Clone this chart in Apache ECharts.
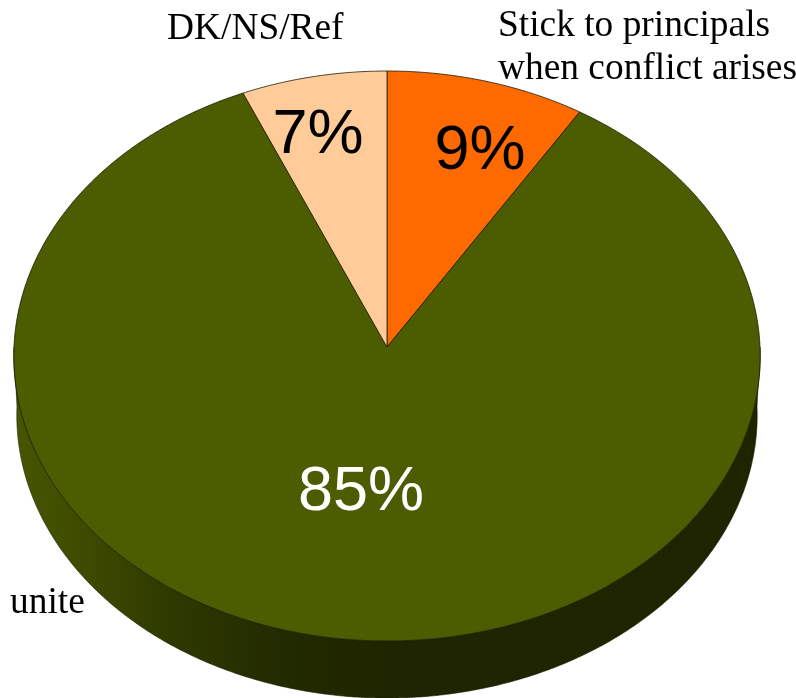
<!DOCTYPE html>
<html>
<head>
<meta charset="utf-8">
<style>html,body{margin:0;padding:0;background:#fff}#c{width:796px;height:698px}</style>
<script src="https://cdn.jsdelivr.net/npm/echarts@6/dist/echarts.min.js"></script>
</head>
<body>
<div id="c"></div>
<script>
const categories = ['Stick to principals\nwhen conflict arises', 'unite', 'DK/NS/Ref'];
const values = [8.9, 84.6, 6.5];

const sliceColors = ['#ff6a00', '#4c5c00', '#ffcc99'];
const pctColors = ['#000', '#fff', '#000'];
const pctPos = [[480, 152], [361, 493], [318, 136]];
const namePos = [[498, 48], [10, 603], [167, 29]];

const CX = 387, CY = 347, RX = 373, RY = 284.7, K = 0.0316;
const SHRINK = 0.992, DROP = 59.4;
const total = values.reduce((a, b) => a + b, 0);
const STEP = Math.PI / 360;

function proj(t, bottom) {
  const u = Math.sin(t), v = -Math.cos(t), w = 1 - K * v;
  const s = bottom ? SHRINK : 1;
  return [CX + s * RX * u / w, CY + (bottom ? DROP : 0) + s * RY * v / w];
}
function arc(a, b, bottom) {
  const pts = [], n = Math.max(1, Math.ceil((b - a) / STEP));
  for (let i = 0; i <= n; i++) pts.push(proj(a + (b - a) * i / n, bottom));
  return pts;
}
const wallFill = {
  type: 'linear', x: 14, y: 0, x2: 760, y2: 0, global: true,
  colorStops: [
    { offset: 0, color: '#465600' },
    { offset: 0.1, color: '#3d4a00' },
    { offset: 0.2, color: '#2f3a00' },
    { offset: 0.36, color: '#222a00' },
    { offset: 0.5, color: '#1f2500' },
    { offset: 1, color: '#1e2400' }
  ]
};

function renderItem(params, api) {
  const i = params.dataIndex;
  let before = 0;
  for (let j = 0; j < i; j++) before += values[j];
  const a = before / total * Math.PI * 2;
  const b = (before + api.value(0)) / total * Math.PI * 2;
  const children = [];
  const fa = Math.max(a, Math.PI / 2), fb = Math.min(b, Math.PI * 1.5);
  if (fb > fa) {
    children.push({
      type: 'polygon', z2: 1,
      shape: { points: arc(fa, fb, false).concat(arc(fa, fb, true).reverse()) },
      style: { fill: wallFill, stroke: '#1a2000', lineWidth: 0.6 }
    });
  }
  children.push({
    type: 'polygon', z2: 2,
    shape: { points: [[CX, CY]].concat(arc(a, b, false)) },
    style: { fill: sliceColors[i], stroke: '#1c1c00', lineWidth: 0.8, lineJoin: 'round' }
  });
  children.push({
    type: 'text', z2: 3,
    style: {
      x: pctPos[i][0], y: pctPos[i][1], text: Math.round(api.value(0)) + '%',
      font: '63px "Liberation Sans", Arial, sans-serif', fill: pctColors[i],
      align: 'center', verticalAlign: 'middle'
    }
  });
  children.push({
    type: 'text', z2: 3,
    style: {
      x: namePos[i][0], y: namePos[i][1], text: categories[i],
      font: '37.4px "Liberation Serif", "Times New Roman", serif', fill: '#000',
      lineHeight: 43, align: 'left', verticalAlign: 'middle'
    }
  });
  return { type: 'group', children };
}

const chart = echarts.init(document.getElementById('c'), null, { renderer: 'canvas' });
chart.setOption({
  animation: false,
  backgroundColor: '#fff',
  series: [{
    type: 'custom',
    coordinateSystem: 'none',
    silent: true,
    renderItem,
    data: values.map(v => [v])
  }]
});
</script>
</body>
</html>
